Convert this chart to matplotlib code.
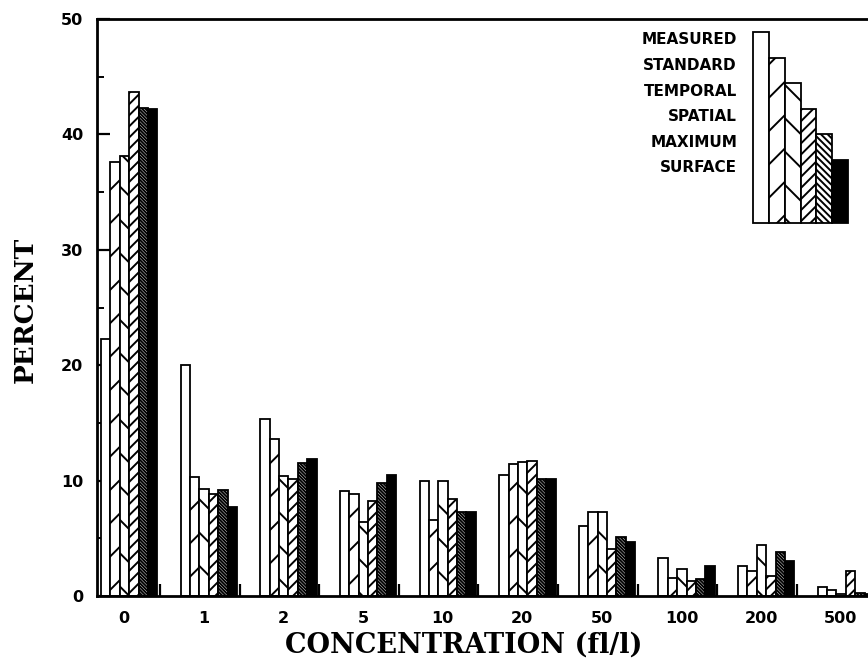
import matplotlib
matplotlib.use("Agg")
import matplotlib.pyplot as plt
from matplotlib.ticker import FixedLocator, FixedFormatter, NullFormatter
import numpy as np

# Concentration classes (fibres per litre) and percentage of samples in each
categories = ["0", "1", "2", "5", "10", "20", "50", "100", "200", "500"]
series_names = ["MEASURED", "STANDARD", "TEMPORAL", "SPATIAL", "MAXIMUM", "SURFACE"]

measured = [22.3, 20.0, 15.3, 9.1, 10.0, 10.5, 6.1, 3.3, 2.6, 0.8]
standard = [37.6, 10.3, 13.6, 8.8, 6.6, 11.4, 7.3, 1.6, 2.2, 0.5]
temporal = [38.1, 9.3, 10.4, 6.4, 10.0, 11.6, 7.3, 2.3, 4.4, 0.2]
spatial = [43.7, 8.8, 10.1, 8.2, 8.4, 11.7, 4.1, 1.3, 1.7, 2.2]
maximum = [42.3, 9.2, 11.5, 9.8, 7.3, 10.1, 5.1, 1.5, 3.8, 0.3]
surface = [42.2, 7.7, 11.9, 10.5, 7.3, 10.1, 4.7, 2.6, 3.0, 0.2]

y_major = [0, 10, 20, 30, 40, 50]
y_minor = [5, 15, 25, 35, 45]

series = [measured, standard, temporal, spatial, maximum, surface]
faces = ["white", "white", "white", "white", "white", "black"]
hatches_main = [None, "/", "\\", "///", "\\" * 10, None]
hatches_key = [None, "/", "\\", "///", "\\" * 5, None]

plt.rcParams["font.family"] = ["DejaVu Sans"]
plt.rcParams["font.weight"] = "bold"
plt.rcParams["hatch.linewidth"] = 1.4
plt.rcParams["hatch.color"] = "black"

W, H = 868, 667
fig = plt.figure(figsize=(W / 100, H / 100), dpi=100)
fig.patch.set_facecolor("white")


def fx(px):
    return px / W


def fy(py):
    return 1 - py / H


ax = fig.add_axes([fx(97), fy(596), (875 - 97) / W, (596 - 19) / H])

x = np.arange(len(categories))
bar_w = 0.118
start = -0.24
for k, (vals, face, hatch) in enumerate(zip(series, faces, hatches_main)):
    ax.bar(x + start + bar_w * (k + 0.5), vals, width=bar_w, facecolor=face,
           edgecolor="black", hatch=hatch, linewidth=1.3, zorder=2)

ax.set_xlim(-0.29, 9.48)
ax.set_ylim(0, 50)

for side in ("left", "bottom", "top"):
    ax.spines[side].set_linewidth(2.0)
ax.spines["right"].set_visible(False)

# y axis: labelled decades with inward ticks, unlabelled half-steps
ax.yaxis.set_major_locator(FixedLocator(y_major))
ax.yaxis.set_minor_locator(FixedLocator(y_minor))
ax.tick_params(axis="y", which="major", direction="in", length=9, width=1.6,
               pad=10, labelsize=11.5)
ax.tick_params(axis="y", which="minor", direction="in", length=5, width=1.4)
ax.tick_params(axis="y", right=False, which="both")

# x axis: separator ticks between classes, class labels under each group
ax.xaxis.set_major_locator(FixedLocator(list(x[:-1] + 0.5)))
ax.xaxis.set_major_formatter(NullFormatter())
ax.xaxis.set_minor_locator(FixedLocator(list(x + 0.05)))
ax.xaxis.set_minor_formatter(FixedFormatter(categories))
ax.tick_params(axis="x", which="major", direction="in", length=9, width=1.6)
ax.tick_params(axis="x", which="minor", length=0, pad=11, labelsize=11.5)
ax.tick_params(axis="x", top=False, which="both")

fig.text(fx(25), fy(310), "PERCENT", rotation=90, ha="center", va="center",
         family="DejaVu Serif", weight="bold", size=19)
fig.text(fx(464), fy(645), "CONCENTRATION (fl/l)", ha="center", va="center",
         family="DejaVu Serif", weight="bold", size=19.5)

# Key: staircase of pattern swatches with right-aligned names
rows_y = 40 + 25.6 * np.arange(len(series_names))
for name, yy in zip(series_names, rows_y):
    fig.text(fx(737), fy(yy), name, ha="right", va="center", size=11,
             weight="bold")

key_bottom, key_top = 223, 20
ax_key = fig.add_axes([fx(753), fy(key_bottom), 95 / W, (key_bottom - key_top) / H])
ax_key.set_xlim(0, len(series_names))
ax_key.set_ylim(0, key_bottom - key_top)
key_heights = key_bottom - (rows_y - 8)
for k, (hgt, face, hatch) in enumerate(zip(key_heights, faces, hatches_key)):
    ax_key.bar(k + 0.5, hgt, width=1.0, facecolor=face, edgecolor="black",
               hatch=hatch, linewidth=1.3, clip_on=False)
ax_key.axis("off")

fig.savefig("out.png", dpi=100, facecolor="white")
